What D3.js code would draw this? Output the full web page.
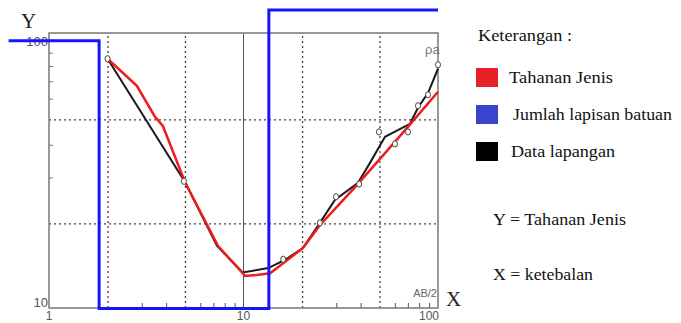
<!DOCTYPE html>
<html>
<head>
<meta charset="utf-8">
<script src="https://cdn.jsdelivr.net/npm/d3@7"></script>
<style>
  body { margin: 0; background: #fff; }
  svg { display: block; }
</style>
</head>
<body>
<svg id="chart"></svg>
<script>
const width = 681, height = 323;

// --- data (log-log) ---
// Tahanan Jenis (model curve, red)
const redX = [2.0, 2.83, 3.51, 3.85, 5.0, 7.4, 10.2, 11.7, 13.7, 20.2, 24.7, 38.4, 70.1, 100];
const redY = [85.3, 67.2, 51.1, 47.2, 28.8, 16.4, 12.6, 12.7, 12.9, 16.1, 19.7, 28.1, 46.8, 63.8];

// Data lapangan (field curve, black)
const blackX = [2.0, 5.0, 7.31, 9.9, 13.4, 16.3, 20.2, 24.7, 29.5, 38.8, 44.7, 53.4, 71.8, 78.9, 88.9, 100];
const blackY = [85.3, 28.8, 16.4, 13.0, 13.5, 14.5, 16.1, 20.1, 24.6, 28.6, 34.1, 42.9, 48.1, 55.4, 63.2, 78.1];

// measured points (open circles)
const pointX = [2.0, 4.94, 16.0, 24.7, 29.9, 39.3, 49.7, 60.1, 70.1, 78.9, 88.9, 100];
const pointY = [85.3, 29.0, 14.6, 20.1, 25.3, 28.3, 44.8, 40.3, 44.8, 56.4, 62.1, 80.9];

// Jumlah lapisan batuan (layer model, blue step)
const layerX = [0.62, 1.81, 13.5, 100];
const layerY = [100, 9.45, 131, 131];

// axis ticks
const xLabels = [1, 10, 100];
const yLabels = [10, 100];
const gridX = [2, 5, 20, 50];
const gridY = [20, 50];
const minorX = [3, 4, 6, 7, 8, 9, 30, 40, 60, 70, 80, 90];
const minorY = [30, 40, 60, 70, 80, 90];

// legend
const legendLabels = ["Tahanan Jenis", "Jumlah lapisan batuan", "Data lapangan"];
const legendColors = ["#e8202a", "#3a43cc", "#000000"];

const svg = d3.select("#chart")
    .attr("width", width)
    .attr("height", height);

// scales
const x = d3.scaleLog().domain([1, 100]).range([49, 438]);
const y = d3.scaleLog().domain([9.5, 107]).range([308, 33]);
const plotH = y.range()[0] - y.range()[1];
const plotW = x.range()[1] - x.range()[0];

const narrow = "'Liberation Sans Narrow', 'Arial Narrow', 'Liberation Sans', sans-serif";
const serif = "'Liberation Serif', 'DejaVu Serif', serif";

// dotted grid
svg.append("g")
    .attr("transform", `translate(0,${y.range()[0]})`)
    .call(d3.axisBottom(x).tickValues(gridX).tickSize(-plotH).tickFormat(""))
    .call(g => g.select(".domain").remove())
    .selectAll("line")
    .attr("stroke", "#444")
    .attr("stroke-width", 1.3)
    .attr("stroke-dasharray", "2,3");

svg.append("g")
    .attr("transform", `translate(${x.range()[0]},0)`)
    .call(d3.axisLeft(y).tickValues(gridY).tickSize(-plotW).tickFormat(""))
    .call(g => g.select(".domain").remove())
    .selectAll("line")
    .attr("stroke", "#444")
    .attr("stroke-width", 1.3)
    .attr("stroke-dasharray", "2,3");

// solid line at 10
svg.append("line")
    .attr("x1", x(10)).attr("x2", x(10))
    .attr("y1", y.range()[0]).attr("y2", y.range()[1])
    .attr("stroke", "#555")
    .attr("stroke-width", 1);

// minor ticks (pointing inward)
svg.append("g")
    .attr("transform", `translate(0,${y.range()[0]})`)
    .call(d3.axisBottom(x).tickValues(minorX).tickSize(-5).tickFormat(""))
    .call(g => g.select(".domain").remove())
    .selectAll("line").attr("stroke", "#555");

svg.append("g")
    .attr("transform", `translate(${x.range()[0]},0)`)
    .call(d3.axisLeft(y).tickValues(minorY).tickSize(-4).tickFormat(""))
    .call(g => g.select(".domain").remove())
    .selectAll("line").attr("stroke", "#777");

// frame
svg.append("rect")
    .attr("x", x.range()[0])
    .attr("y", y.range()[1])
    .attr("width", plotW)
    .attr("height", plotH)
    .attr("fill", "none")
    .attr("stroke", "#777")
    .attr("stroke-width", 1.5);

// tick labels
svg.append("g").selectAll("text")
    .data(xLabels)
    .join("text")
    .attr("x", d => d === 100 ? x(d) + 1 : x(d))
    .attr("y", 320)
    .attr("text-anchor", d => d === 100 ? "end" : "middle")
    .style("font-family", narrow)
    .style("font-size", "12px")
    .attr("fill", "#555")
    .text(d => d);

svg.append("g").selectAll("text")
    .data(yLabels)
    .join("text")
    .attr("x", x.range()[0] - 1)
    .attr("y", d => y(d) + 5)
    .attr("text-anchor", "end")
    .style("font-family", narrow)
    .style("font-size", "13px")
    .attr("fill", "#555")
    .text(d => d);

// inner captions
svg.append("text")
    .attr("x", 425).attr("y", 54)
    .style("font-family", narrow)
    .style("font-size", "13px")
    .attr("fill", "#777")
    .text("ρa");

svg.append("text")
    .attr("x", 437).attr("y", 297)
    .attr("text-anchor", "end")
    .style("font-family", narrow)
    .style("font-size", "11px")
    .attr("fill", "#666")
    .text("AB/2");

// axis letters
svg.append("text")
    .attr("x", 21).attr("y", 28)
    .style("font-family", serif)
    .style("font-size", "21px")
    .attr("fill", "#222")
    .text("Y");

svg.append("text")
    .attr("x", 446).attr("y", 306)
    .style("font-family", serif)
    .style("font-size", "21px")
    .attr("fill", "#222")
    .text("X");

// curves
const line = d3.line().x(d => x(d[0])).y(d => y(d[1]));

svg.append("path")
    .datum(d3.zip(blackX, blackY))
    .attr("d", line)
    .attr("fill", "none")
    .attr("stroke", "#1a1a1a")
    .attr("stroke-width", 2);

svg.append("path")
    .datum(d3.zip(redX, redY))
    .attr("d", line)
    .attr("fill", "none")
    .attr("stroke", "#f01c1c")
    .attr("stroke-width", 2.5);

svg.append("g").selectAll("ellipse")
    .data(d3.zip(pointX, pointY))
    .join("ellipse")
    .attr("cx", d => x(d[0]))
    .attr("cy", d => y(d[1]))
    .attr("rx", 2.5)
    .attr("ry", 3.1)
    .attr("fill", "#fff")
    .attr("stroke", "#444")
    .attr("stroke-width", 1);

svg.append("path")
    .datum(d3.zip(layerX, layerY))
    .attr("d", d3.line().curve(d3.curveStepAfter).x(d => x(d[0])).y(d => y(d[1])))
    .attr("fill", "none")
    .attr("stroke", "#1414ff")
    .attr("stroke-width", 3);

// legend
const legend = svg.append("g");

legend.append("text")
    .attr("x", 478).attr("y", 41)
    .attr("textLength", 94).attr("lengthAdjust", "spacingAndGlyphs")
    .style("font-family", serif)
    .style("font-size", "17px")
    .attr("fill", "#111")
    .text("Keterangan :");

const itemY = [68, 105, 142];
const textX = [509, 513, 511];
const textW = [104, 159, 104];

legend.selectAll("rect")
    .data(legendColors)
    .join("rect")
    .attr("x", 476)
    .attr("y", (d, i) => itemY[i])
    .attr("width", 22)
    .attr("height", 19)
    .attr("fill", d => d);

legend.selectAll("text.item")
    .data(legendLabels)
    .join("text")
    .attr("class", "item")
    .attr("x", (d, i) => textX[i])
    .attr("y", (d, i) => itemY[i] + 15)
    .attr("textLength", (d, i) => textW[i])
    .attr("lengthAdjust", "spacingAndGlyphs")
    .style("font-family", serif)
    .style("font-size", "17px")
    .attr("fill", "#111")
    .text(d => d);

legend.append("text")
    .attr("x", 493).attr("y", 225)
    .attr("textLength", 133).attr("lengthAdjust", "spacingAndGlyphs")
    .style("font-family", serif)
    .style("font-size", "17px")
    .attr("fill", "#111")
    .text("Y = Tahanan Jenis");

legend.append("text")
    .attr("x", 493).attr("y", 280)
    .attr("textLength", 100).attr("lengthAdjust", "spacingAndGlyphs")
    .style("font-family", serif)
    .style("font-size", "17px")
    .attr("fill", "#111")
    .text("X = ketebalan");
</script>
</body>
</html>
